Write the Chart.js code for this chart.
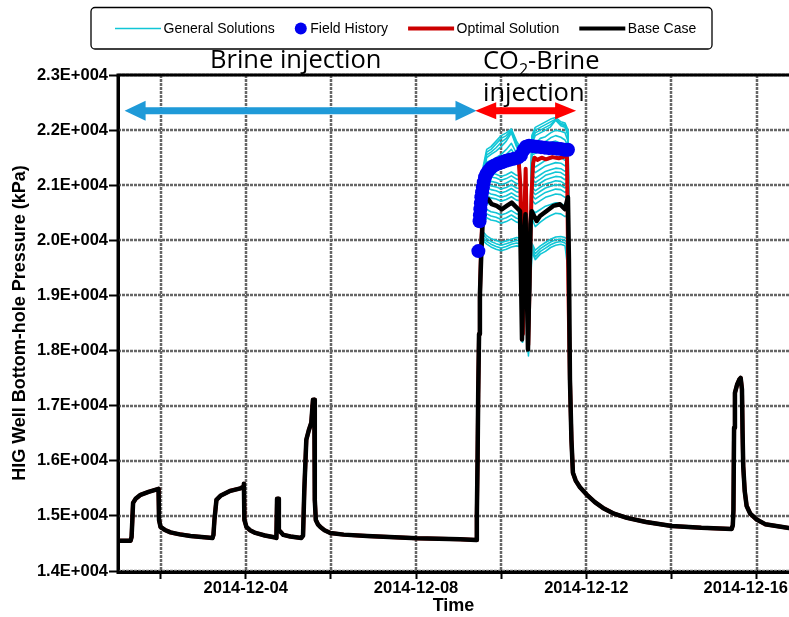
<!DOCTYPE html>
<html><head><meta charset="utf-8">
<script src="https://cdn.jsdelivr.net/npm/chart.js@4.4.1/dist/chart.umd.min.js"></script>
<style>html,body{margin:0;padding:0;background:#fff;overflow:hidden}#wrap{width:789px;height:617px;position:relative}</style>
</head><body><div id="wrap"><canvas id="c" width="789" height="617"></canvas></div>
<script>
// ---- time axis: days since 2014-12-01 00:00 ----
const xGridDays = [1, 3, 5, 7, 9, 11, 13, 15];
const xLabelDays = [3, 7, 11, 15];
const xLabelText = ['2014-12-04', '2014-12-08', '2014-12-12', '2014-12-16'];

// ---- shared model history before CO2 period ----
const preDays = [0, 0.296, 0.319, 0.337, 0.354, 0.413, 0.530, 0.718, 0.952, 0.964, 0.999, 1.10, 1.234, 1.45, 1.703, 2.219, 2.242, 2.265, 2.312, 2.406, 2.641, 2.875, 2.946, 2.957, 2.969, 3.016, 3.10, 3.227, 3.45, 3.696, 3.720, 3.736, 3.762, 3.778, 3.884, 4.05, 4.306, 4.346, 4.376, 4.423, 4.480, 4.540, 4.580, 4.611, 4.622, 4.646, 4.70, 4.752, 4.85, 4.986, 5.30, 5.847, 7.019, 8.035, 8.414, 8.428, 8.445, 8.460, 8.480, 8.500];
const prePressure = [14551, 14551, 14618, 14927, 15236, 15309, 15382, 15436, 15491, 14927, 14800, 14745, 14700, 14665, 14636, 14600, 14655, 14927, 15291, 15364, 15455, 15500, 15527, 15582, 14927, 14800, 14740, 14691, 14645, 14609, 14600, 15309, 15309, 14745, 14655, 14625, 14600, 14642, 15473, 16382, 16550, 16691, 17109, 17109, 15291, 14927, 14840, 14800, 14740, 14691, 14660, 14636, 14594, 14576, 14564, 15000, 16000, 17200, 18300, 19000];

// ---- shared model history after CO2 period ----
const postDays = [10.615, 10.650, 10.685, 10.75, 10.85, 11.013, 11.20, 11.389, 11.65, 11.952, 12.40, 13.006, 13.70, 14.414, 14.44, 14.455, 14.47, 14.49, 14.54, 14.59, 14.625, 14.655, 14.67, 14.685, 14.72, 14.765, 14.85, 14.99, 15.20, 15.76];
const postPressure = [17473, 16382, 15782, 15640, 15520, 15382, 15250, 15145, 15040, 14964, 14890, 14818, 14785, 14764, 14830, 15100, 16600, 17231, 17380, 17470, 17504, 17300, 16500, 15900, 15450, 15180, 15040, 14940, 14850, 14782];

// ---- Base Case during CO2-brine injection ----
const baseCaseCO2Days = [8.53, 8.56, 8.585, 8.698, 8.778, 8.895, 9.013, 9.130, 9.247, 9.364, 9.442, 9.489, 9.547, 9.571, 9.629, 9.688, 9.716, 9.833, 9.911, 10.068, 10.223, 10.380, 10.497, 10.568, 10.591];
const baseCaseCO2Pressure = [19700, 20250, 20650, 20745, 20655, 20624, 20564, 20624, 20685, 20595, 20533, 18200, 20200, 20473, 18018, 20291, 20527, 20351, 20442, 20533, 20624, 20655, 20564, 20782, 19655];

// ---- Optimal Solution during CO2-brine injection ----
const optimalCO2Days = [8.53, 8.56, 8.60, 8.66, 8.75, 8.90, 9.05, 9.20, 9.35, 9.41, 9.45, 9.48, 9.51, 9.545, 9.575, 9.605, 9.635, 9.67, 9.71, 9.75, 9.78, 9.85, 9.95, 10.05, 10.20, 10.35, 10.50, 10.545, 10.58];
const optimalCO2Pressure = [19900, 20450, 20850, 21100, 21250, 21340, 21390, 21420, 21440, 21450, 21000, 19800, 18300, 20500, 21300, 19800, 18100, 19300, 20800, 21400, 21500, 21460, 21500, 21470, 21510, 21490, 21520, 21510, 19100];

// ---- General Solutions during CO2-brine injection ----
const generalCO2Days = [8.53, 8.58, 8.66, 8.76, 8.88, 9.00, 9.12, 9.24, 9.36, 9.44, 9.50, 9.57, 9.64, 9.72, 9.80, 9.92, 10.04, 10.16, 10.28, 10.40, 10.50, 10.57];
const generalCO2Pressure = [
  [20700, 21350, 21650, 21700, 21800, 21900, 21950, 22020, 21800, 21700, 18450, 21100, 18400, 21900, 22050, 22100, 22150, 22200, 22230, 22150, 22130, 22000],
  [20650, 21300, 21600, 21650, 21750, 21850, 21900, 22000, 21750, 21650, 18450, 21050, 18350, 21850, 22000, 22050, 22100, 22150, 22200, 22120, 22100, 21950],
  [20620, 21250, 21550, 21600, 21680, 21780, 21850, 21980, 21720, 21620, 18420, 21020, 18320, 21800, 21950, 22000, 22050, 22100, 22190, 22100, 22080, 21920],
  [20600, 21200, 21500, 21560, 21620, 21700, 21800, 21950, 21700, 21600, 18400, 21000, 18300, 21750, 21900, 21950, 22000, 22060, 22180, 22080, 22050, 21900],
  [20550, 21150, 21420, 21450, 21500, 21560, 21650, 21760, 21580, 21500, 18350, 20950, 18250, 21650, 21750, 21850, 21880, 21950, 22000, 21980, 21950, 21800],
  [20520, 21120, 21380, 21400, 21440, 21490, 21560, 21650, 21500, 21440, 18320, 20920, 18220, 21600, 21660, 21750, 21790, 21860, 21900, 21870, 21820, 21720],
  [20500, 21100, 21350, 21350, 21380, 21420, 21480, 21550, 21420, 21380, 18300, 20900, 18200, 21550, 21580, 21650, 21700, 21780, 21800, 21760, 21700, 21650],
  [20500, 21050, 21260, 21220, 21200, 21160, 21190, 21240, 21180, 21170, 18400, 20900, 18200, 21400, 21330, 21390, 21450, 21480, 21510, 21500, 21450, 21490],
  [20450, 20980, 21190, 21150, 21130, 21090, 21120, 21170, 21110, 21100, 18380, 20850, 18180, 21300, 21230, 21290, 21350, 21380, 21410, 21400, 21350, 21390],
  [20400, 20900, 21110, 21070, 21050, 21010, 21040, 21090, 21030, 21020, 18350, 20800, 18150, 21200, 21130, 21190, 21250, 21280, 21310, 21300, 21250, 21290],
  [20350, 20820, 21030, 20990, 20970, 20930, 20960, 21010, 20950, 20940, 18330, 20750, 18130, 21120, 21050, 21110, 21180, 21210, 21240, 21230, 21180, 21220],
  [20300, 20750, 20960, 20920, 20900, 20860, 20890, 20940, 20880, 20870, 18300, 20700, 18100, 21050, 20980, 21040, 21100, 21130, 21160, 21150, 21100, 21140],
  [20250, 20680, 20880, 20840, 20820, 20780, 20810, 20860, 20800, 20790, 18280, 20650, 18080, 20970, 20900, 20960, 21020, 21050, 21080, 21070, 21020, 21060],
  [20200, 20600, 20810, 20770, 20750, 20710, 20740, 20790, 20730, 20720, 18250, 20600, 18050, 20900, 20830, 20890, 20950, 20980, 21010, 21000, 20950, 20990],
  [20150, 20500, 20680, 20640, 20620, 20580, 20610, 20660, 20600, 20590, 18230, 20550, 18030, 20820, 20750, 20810, 20870, 20900, 20930, 20920, 20870, 20910],
  [20100, 20400, 20560, 20520, 20500, 20460, 20490, 20540, 20480, 20470, 18200, 20500, 18000, 20730, 20660, 20720, 20780, 20810, 20840, 20830, 20780, 20820],
  [20050, 20350, 20480, 20440, 20420, 20380, 20410, 20460, 20400, 20390, 18180, 20450, 17980, 20570, 20500, 20560, 20620, 20650, 20680, 20670, 20620, 20660],
  [20000, 20300, 20410, 20370, 20350, 20310, 20340, 20390, 20330, 20320, 18150, 20400, 17950, 20400, 20250, 20330, 20400, 20450, 20490, 20480, 20430, 20470],
  [20180, 20150, 20080, 20030, 20000, 19960, 19990, 20020, 20050, 20040, 18300, 20000, 18100, 19950, 19820, 19900, 19960, 20020, 20060, 20070, 20050, 20010],
  [20120, 20100, 20030, 19980, 19940, 19910, 19940, 19970, 20000, 19990, 18250, 19950, 18050, 19900, 19760, 19850, 19910, 19970, 20010, 20020, 20000, 19950],
  [20060, 20040, 19980, 19930, 19890, 19860, 19890, 19930, 19950, 19940, 18200, 19900, 18000, 19850, 19700, 19800, 19860, 19920, 19960, 19980, 19950, 19900],
  [20000, 19990, 19930, 19880, 19840, 19810, 19840, 19880, 19900, 19890, 18150, 19850, 17900, 19800, 19650, 19750, 19800, 19870, 19910, 19930, 19900, 19450]
];

// ---- Field History (measured) ----
const fieldHistoryDays = [8.464, 8.492, 8.501, 8.511, 8.523, 8.534, 8.551, 8.570, 8.591, 8.621, 8.656, 8.703, 8.762, 8.832, 8.926, 9.020, 9.113, 9.207, 9.301, 9.395, 9.465, 9.524, 9.582, 9.653, 9.747, 9.840, 9.934, 10.028, 10.122, 10.216, 10.310, 10.404, 10.497, 10.568];
const fieldHistoryPressure = [19805, 20345, 20455, 20564, 20673, 20782, 20873, 20964, 21055, 21145, 21209, 21264, 21318, 21355, 21391, 21418, 21445, 21464, 21482, 21500, 21545, 21636, 21700, 21718, 21709, 21700, 21691, 21682, 21673, 21673, 21664, 21655, 21645, 21645];

// ---- annotations ----
const brineArrowDays = [0.155, 8.42];
const co2ArrowDays = [8.39, 10.76];
const arrowPressure = 22350;
const legendLabels = ['General Solutions', 'Field History', 'Optimal Solution', 'Base Case'];

const FONT = "'Liberation Sans', Arial, sans-serif";
const ANNOT_FONT = "'Open Sans', 'Noto Sans', sans-serif";
const CYAN = '#10c6d6', BLUE = '#0000f0', RED = '#cc0000', BLACK = '#000000';

function pts(xs, ys) { return xs.map((x, i) => ({ x: x, y: ys[i] })); }
function modelSeries(midDays, midP) {
  return pts(preDays.concat(midDays, postDays), prePressure.concat(midP, postPressure));
}

const datasets = [
  { label: legendLabels[1], data: pts(fieldHistoryDays, fieldHistoryPressure), showLine: false,
    pointRadius: 7, pointHoverRadius: 7, pointBackgroundColor: BLUE, pointBorderWidth: 0, borderColor: BLUE, order: 0 },
  { label: legendLabels[3], data: modelSeries(baseCaseCO2Days, baseCaseCO2Pressure), borderColor: BLACK,
    borderWidth: 4.5, pointRadius: 0, order: 1 },
  { label: legendLabels[2], data: modelSeries(optimalCO2Days, optimalCO2Pressure), borderColor: RED,
    borderWidth: 4, pointRadius: 0, order: 2 }
].concat(generalCO2Pressure.map(p => ({
  label: legendLabels[0], data: modelSeries(generalCO2Days, p), borderColor: CYAN,
  borderWidth: 1.6, pointRadius: 0, order: 3
})));

function drawArrow(ctx, x1, x2, yc, color, hh) {
  const hl = 21, sh = 3.5;
  ctx.fillStyle = color;
  ctx.beginPath();
  ctx.moveTo(x1, yc);
  ctx.lineTo(x1 + hl, yc - hh); ctx.lineTo(x1 + hl, yc - sh);
  ctx.lineTo(x2 - hl, yc - sh); ctx.lineTo(x2 - hl, yc - hh);
  ctx.lineTo(x2, yc);
  ctx.lineTo(x2 - hl, yc + hh); ctx.lineTo(x2 - hl, yc + sh);
  ctx.lineTo(x1 + hl, yc + sh); ctx.lineTo(x1 + hl, yc + hh);
  ctx.closePath(); ctx.fill();
}

// dotted grid drawn from the scales' own ticks, beneath the data
const dottedGrid = {
  id: 'dottedGrid',
  beforeDatasetsDraw(chart) {
    const { ctx, chartArea: a, scales: { x, y } } = chart;
    ctx.save();
    ctx.strokeStyle = '#666666'; ctx.lineWidth = 2.5; ctx.setLineDash([3, 1]);
    y.ticks.forEach(t => {
      const py = Math.round(y.getPixelForValue(t.value));
      ctx.beginPath(); ctx.moveTo(a.left, py); ctx.lineTo(a.right, py); ctx.stroke();
    });
    x.ticks.forEach(t => {
      const px = Math.round(x.getPixelForValue(t.value));
      ctx.beginPath(); ctx.moveTo(px, a.top); ctx.lineTo(px, a.bottom); ctx.stroke();
    });
    ctx.restore();
  }
};

const decor = {
  id: 'decor',
  afterDraw(chart) {
    const { ctx, chartArea: a, scales: { x, y } } = chart;
    ctx.save();
    // frame lines
    ctx.strokeStyle = '#000'; ctx.lineWidth = 3;
    ctx.beginPath(); ctx.moveTo(a.left - 1.5, a.top); ctx.lineTo(a.right, a.top); ctx.stroke();
    ctx.beginPath(); ctx.moveTo(a.left, a.top); ctx.lineTo(a.left, a.bottom + 1.5); ctx.lineTo(a.right, a.bottom + 1.5); ctx.stroke();

    // x tick labels (kept inside the picture)
    ctx.font = 'bold 16.5px ' + FONT; ctx.fillStyle = '#000';
    ctx.textAlign = 'left'; ctx.textBaseline = 'alphabetic';
    xLabelDays.forEach((d, i) => {
      const t = xLabelText[i], w = ctx.measureText(t).width;
      const cx = x.getPixelForValue(d);
      const left = Math.min(cx - w / 2, chart.width - w - 1);
      ctx.fillText(t, left, 593);
    });

    // arrows
    const ay = y.getPixelForValue(arrowPressure);
    drawArrow(ctx, x.getPixelForValue(brineArrowDays[0]), x.getPixelForValue(brineArrowDays[1]), ay, '#1f9ad8', 10);
    drawArrow(ctx, x.getPixelForValue(co2ArrowDays[0]), x.getPixelForValue(co2ArrowDays[1]), ay, '#ff0000', 8.5);

    // phase texts
    ctx.fillStyle = '#000';
    ctx.font = '25.5px ' + ANNOT_FONT;
    ctx.fillText('Brine injection', 210, 68);
    let tx = 483;
    ctx.fillText('CO', tx, 69); tx += ctx.measureText('CO').width;
    ctx.font = '16px ' + ANNOT_FONT;
    ctx.fillText('2', tx, 75); tx += ctx.measureText('2').width;
    ctx.font = '25.5px ' + ANNOT_FONT;
    ctx.fillText('-Brine', tx, 69);
    ctx.fillText('injection', 483, 101);

    // legend
    ctx.strokeStyle = '#000'; ctx.lineWidth = 1.3;
    ctx.beginPath();
    if (ctx.roundRect) ctx.roundRect(91, 7.5, 621, 41.5, 4); else ctx.rect(91, 7.5, 621, 41.5);
    ctx.stroke();
    ctx.font = '14px ' + FONT; ctx.textBaseline = 'middle'; ctx.fillStyle = '#000';
    const ly = 28.5;
    let lx = 115;
    const items = [
      { kind: 'line', color: CYAN, w: 1.3 },
      { kind: 'dot', color: BLUE },
      { kind: 'line', color: RED, w: 4 },
      { kind: 'line', color: BLACK, w: 4 }
    ];
    items.forEach((it, i) => {
      if (it.kind === 'line') {
        ctx.strokeStyle = it.color; ctx.lineWidth = it.w;
        ctx.beginPath(); ctx.moveTo(lx, ly); ctx.lineTo(lx + 46, ly); ctx.stroke();
        lx += 48.5;
      } else {
        ctx.fillStyle = it.color;
        ctx.beginPath(); ctx.arc(lx + 6, ly, 6, 0, Math.PI * 2); ctx.fill();
        lx += 15.5;
      }
      ctx.fillStyle = '#000';
      ctx.fillText(legendLabels[i], lx, ly + 0.5);
      lx += ctx.measureText(legendLabels[i]).width + 20;
    });
    ctx.restore();
  }
};

new Chart(document.getElementById('c'), {
  type: 'line',
  data: { datasets: datasets },
  options: {
    responsive: false, animation: false, devicePixelRatio: 1,
    layout: { autoPadding: false, padding: { top: 75, right: 0, bottom: 0, left: 0 } },
    elements: { line: { tension: 0, borderJoinStyle: 'round', borderCapStyle: 'round' } },
    plugins: { legend: { display: false }, tooltip: { enabled: false } },
    scales: {
      x: {
        type: 'linear', min: 0, max: 15.76,
        afterBuildTicks(s) { s.ticks = xGridDays.map(v => ({ value: v })); },
        ticks: { display: false },
        grid: { drawOnChartArea: false, color: '#666666', tickColor: '#000', tickLength: 8, tickWidth: 2 },
        border: { color: '#000', width: 3 },
        title: { display: true, text: 'Time', color: '#000', font: { family: FONT, size: 18, weight: 'bold' }, padding: { top: 0, bottom: 0 } },
        afterFit(s) { s.height = 46; s.paddingLeft = 0; s.paddingRight = 0; }
      },
      y: {
        type: 'linear', min: 14000, max: 23000,
        ticks: { stepSize: 1000, color: '#000', padding: 1, font: { family: FONT, size: 16.5, weight: 'bold' },
          callback: v => (v / 10000).toFixed(1) + 'E+004' },
        grid: { drawOnChartArea: false, color: '#666666', tickColor: '#000', tickLength: 9, tickWidth: 2 },
        border: { color: '#000', width: 3 },
        title: { display: true, text: 'HIG Well Bottom-hole Pressure (kPa)', color: '#000', font: { family: FONT, size: 18, weight: 'bold' }, padding: { top: 9, bottom: 0 } },
        afterFit(s) { s.width = 118; s.paddingTop = 0; s.paddingBottom = 0; }
      }
    }
  },
  plugins: [dottedGrid, decor]
});
</script>
</body></html>
